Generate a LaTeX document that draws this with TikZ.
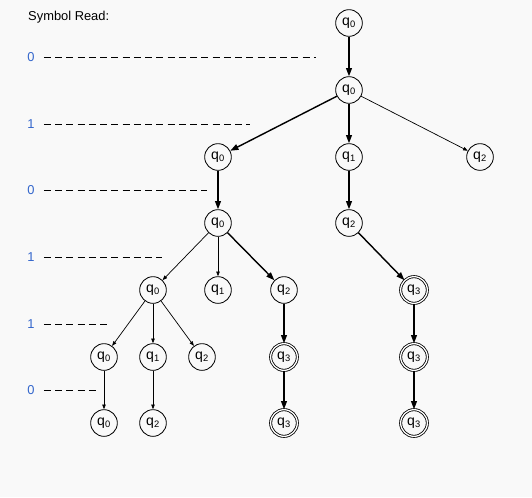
\documentclass[tikz,border=0pt]{standalone}
\usepackage{fontspec}
\setmainfont{Liberation Sans}
\usetikzlibrary{arrows.meta}
\definecolor{bggray}{HTML}{F9F9F9}
\definecolor{symblue}{HTML}{3366CC}
\newcommand{\qs}[1]{q\textsubscript{#1}}
\tikzset{
  state/.style={draw, circle, line width=0.7pt, minimum size=0.8cm, inner sep=0pt, font=\fontsize{12}{14}\selectfont},
  accept/.style={state, double, double distance=1.1pt},
  run/.style={line width=1.2pt, -{Triangle[length=7pt, width=5pt]}},
  deadrun/.style={line width=0.6pt, -{Triangle[length=4pt, width=3pt]}},
  symlabel/.style={text=symblue, inner sep=0pt, font=\fontsize{11}{13}\selectfont},
  symline/.style={line width=0.7pt, dash pattern=on 6pt off 3.6pt}
}
\begin{document}
\begin{tikzpicture}[x=0.03cm, y=-0.03cm]
% Background and bounding box (pixel units)
\fill[bggray] (0,0) rectangle (532,497);
\useasboundingbox (0,0) rectangle (532,497);

% Header
\node[anchor=west, inner sep=0pt, font=\fontsize{11}{13}\selectfont] (title) at (28,17) {Symbol Read:};

% Symbols read, one per level
\node[symlabel] (s1) at (31,57) {0};
\coordinate (s1end) at (316,57);
\draw[symline] (s1.east) ++(9,0) -- (s1end);
\node[symlabel] (s2) at (31,124) {1};
\coordinate (s2end) at (250,124);
\draw[symline] (s2.east) ++(9,0) -- (s2end);
\node[symlabel] (s3) at (31,190) {0};
\coordinate (s3end) at (207,190);
\draw[symline] (s3.east) ++(9,0) -- (s3end);
\node[symlabel] (s4) at (31,257) {1};
\coordinate (s4end) at (162,257);
\draw[symline] (s4.east) ++(9,0) -- (s4end);
\node[symlabel] (s5) at (31,324) {1};
\coordinate (s5end) at (107,324);
\draw[symline] (s5.east) ++(9,0) -- (s5end);
\node[symlabel] (s6) at (31,390) {0};
\coordinate (s6end) at (97,390);
\draw[symline] (s6.east) ++(9,0) -- (s6end);

% States
\node[state] (r) at (349,23) {\qs{0}};
\node[state] (a0) at (349,90) {\qs{0}};
\node[state] (b0) at (218,157) {\qs{0}};
\node[state] (b1) at (349,157) {\qs{1}};
\node[state] (b2) at (480,157) {\qs{2}};
\node[state] (c0) at (218,223) {\qs{0}};
\node[state] (c2) at (349,223) {\qs{2}};
\node[state] (d0) at (153,290) {\qs{0}};
\node[state] (d1) at (218,290) {\qs{1}};
\node[state] (d2) at (284,290) {\qs{2}};
\node[accept] (d3) at (414,290) {\qs{3}};
\node[state] (e0) at (104,357) {\qs{0}};
\node[state] (e1) at (153,357) {\qs{1}};
\node[state] (e2) at (202,357) {\qs{2}};
\node[accept] (e3) at (284,357) {\qs{3}};
\node[accept] (e3b) at (414,357) {\qs{3}};
\node[state] (f0) at (104,423) {\qs{0}};
\node[state] (f2) at (153,423) {\qs{2}};
\node[accept] (f3) at (284,423) {\qs{3}};
\node[accept] (f3b) at (414,423) {\qs{3}};

% Transitions
\draw[run] (r) -- (a0);
\draw[run] (a0) -- (b0);
\draw[run] (a0) -- (b1);
\draw[deadrun] (a0) -- (b2);
\draw[run] (b0) -- (c0);
\draw[run] (b1) -- (c2);
\draw[deadrun] (c0) -- (d0);
\draw[deadrun] (c0) -- (d1);
\draw[run] (c0) -- (d2);
\draw[run] (c2) -- (d3);
\draw[deadrun] (d0) -- (e0);
\draw[deadrun] (d0) -- (e1);
\draw[deadrun] (d0) -- (e2);
\draw[run] (d2) -- (e3);
\draw[run] (d3) -- (e3b);
\draw[deadrun] (e0) -- (f0);
\draw[deadrun] (e1) -- (f2);
\draw[run] (e3) -- (f3);
\draw[run] (e3b) -- (f3b);
\end{tikzpicture}
\end{document}
